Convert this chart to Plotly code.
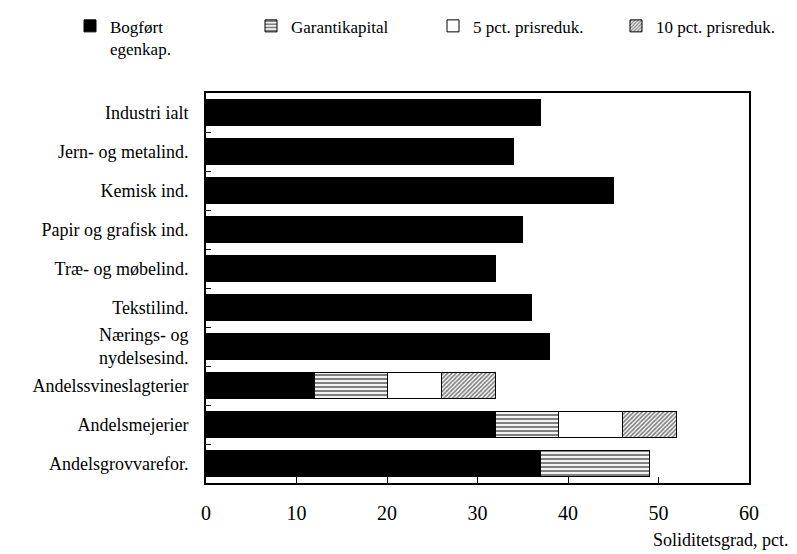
import plotly.graph_objects as go

categories = [
    "Industri ialt",
    "Jern- og metalind.",
    "Kemisk ind.",
    "Papir og grafisk ind.",
    "Træ- og møbelind.",
    "Tekstilind.",
    "Nærings- og<br>nydelsesind.",
    "Andelssvineslagterier",
    "Andelsmejerier",
    "Andelsgrovvarefor.",
]
bogfoert = [37, 34, 45, 35, 32, 36, 38, 12, 32, 37]
garanti = [0, 0, 0, 0, 0, 0, 0, 8, 7, 12]
pris5 = [0, 0, 0, 0, 0, 0, 0, 6, 7, 0]
pris10 = [0, 0, 0, 0, 0, 0, 0, 6, 6, 0]
x_ticks = [0, 10, 20, 30, 40, 50, 60]

FONT = "Liberation Serif"

# name, values, marker style, legend id, legend left edge (px)
series = [
    ("Bogført<br>egenkap.", bogfoert, dict(color="black"), "legend", 70),
    ("Garantikapital", garanti,
     dict(color="white", pattern=dict(shape="-", fgcolor="black", bgcolor="white", size=4, solidity=0.55)),
     "legend2", 251),
    ("5 pct. prisreduk.", pris5, dict(color="white"), "legend3", 433),
    ("10 pct. prisreduk.", pris10,
     dict(color="white", pattern=dict(shape="/", fgcolor="black", bgcolor="white", size=3, solidity=0.55)),
     "legend4", 616),
]

W, H = 797, 554
fig = go.Figure()
legends = {}
for name, vals, marker, leg, left in series:
    marker = dict(marker)
    marker["line"] = dict(color="black", width=1)
    fig.add_trace(go.Bar(
        y=categories, x=vals, name=name, orientation="h", marker=marker,
        legend=leg,
    ))
    legends[leg] = dict(
        xref="container", yref="container",
        x=left / W, y=0.985, xanchor="left", yanchor="top",
        valign="top", bgcolor="rgba(0,0,0,0)",
        font=dict(family=FONT, size=17, color="black"),
        itemclick=False, itemdoubleclick=False,
    )

fig.update_layout(
    barmode="stack",
    bargap=0.33,
    width=W, height=H,
    margin=dict(l=206, r=48, t=93, b=71, autoexpand=False),
    paper_bgcolor="white", plot_bgcolor="white",
    font=dict(family=FONT, size=18, color="black"),
    showlegend=True,
    **legends,
)

fig.update_xaxes(
    range=[0, 60], tickvals=x_ticks, ticktext=[str(v) for v in x_ticks],
    ticks="inside", ticklen=6, tickcolor="black", tickwidth=1,
    showline=True, linecolor="black", linewidth=2, mirror=True,
    showgrid=False, zeroline=False, automargin=False,
    tickfont=dict(family=FONT, size=20),
    ticklabelstandoff=11,
)
fig.update_yaxes(
    categoryorder="array", categoryarray=categories,
    autorange="reversed",
    ticks="inside", ticklen=5, tickcolor="black", tickwidth=1,
    tickson="boundaries",
    showline=True, linecolor="black", linewidth=2, mirror=True,
    showgrid=False, zeroline=False, automargin=False,
    tickfont=dict(family=FONT, size=18),
    ticklabelstandoff=12,
)

fig.add_annotation(
    text="Soliditetsgrad, pct.", xref="paper", yref="paper",
    x=1.0755, y=-0.146, xanchor="right", yanchor="middle", showarrow=False,
    font=dict(family=FONT, size=18),
)

fig.write_html("out.html")
